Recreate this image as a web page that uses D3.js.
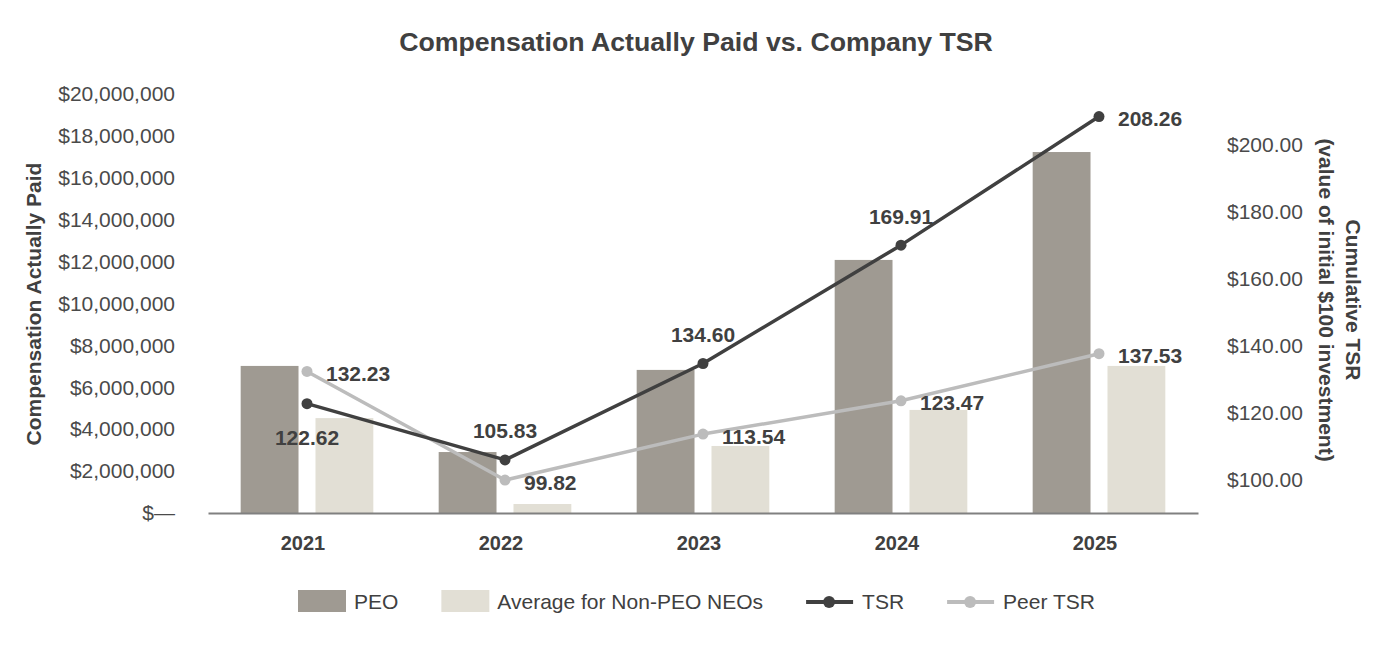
<!DOCTYPE html>
<html>
<head>
<meta charset="utf-8">
<script src="https://cdn.jsdelivr.net/npm/d3@7"></script>
<style>
  body { margin: 0; background: #fff; }
  svg text { font-family: "Liberation Sans", Arial, sans-serif; }
</style>
</head>
<body>
<div id="chart"></div>
<script>
// ---- data ----
const years = ['2021', '2022', '2023', '2024', '2025'];
const peoCap = [7020000, 2910000, 6830000, 12080000, 17230000];
const avgNeoCap = [4530000, 430000, 3200000, 4920000, 7020000];
const tsr = [122.62, 105.83, 134.6, 169.91, 208.26];
const peerTsr = [132.23, 99.82, 113.54, 123.47, 137.53];
const leftTicks = [0, 2e6, 4e6, 6e6, 8e6, 10e6, 12e6, 14e6, 16e6, 18e6, 20e6];
const rightTicks = [100, 120, 140, 160, 180, 200];

const W = 1392, H = 652;
const plot = { left: 208, right: 1198, top: 94, bottom: 513 };
const textColor = '#404040';
const colors = { peo: '#9f9a92', avg: '#e2dfd5', tsr: '#404040', peer: '#bcbcbc' };

const svg = d3.select('#chart').append('svg').attr('width', W).attr('height', H);

// scales
const x0 = d3.scaleBand().domain(years).range([plot.left, plot.right])
  .paddingInner(0.33).paddingOuter(0.165);
const x1 = d3.scaleBand().domain(['peo', 'avg']).range([0, x0.bandwidth()]).paddingInner(0.227);
const yLeft = d3.scaleLinear().domain([0, 20e6]).range([plot.bottom, plot.top]);
const yRight = d3.scaleLinear().domain([90, 215]).range([plot.bottom, plot.top]);
const cx = (d, i) => x0(years[i]) + x0.bandwidth() / 2;

// title
svg.append('text').attr('x', 696).attr('y', 51).attr('text-anchor', 'middle')
  .attr('font-size', 26.7).attr('font-weight', 'bold').attr('fill', textColor)
  .text('Compensation Actually Paid vs. Company TSR');

// left axis
const leftAxis = d3.axisLeft(yLeft).tickValues(leftTicks).tickSize(0).tickPadding(0)
  .tickFormat(d => d === 0 ? '$\u2014' : '$' + d3.format(',')(d));
svg.append('g').attr('transform', 'translate(175,0)').call(leftAxis)
  .call(g => g.select('.domain').remove())
  .call(g => g.selectAll('text').attr('font-size', 21).attr('fill', '#4a4a4a')
    .attr('font-family', '"Liberation Sans", Arial, sans-serif'));

// right axis
const rightAxis = d3.axisRight(yRight).tickValues(rightTicks).tickSize(0).tickPadding(0)
  .tickFormat(d => '$' + d3.format('.2f')(d));
svg.append('g').attr('transform', 'translate(1227,0)').call(rightAxis)
  .call(g => g.select('.domain').remove())
  .call(g => g.selectAll('text').attr('font-size', 21).attr('fill', '#4a4a4a')
    .attr('font-family', '"Liberation Sans", Arial, sans-serif'));

// axis titles
svg.append('text').attr('transform', 'translate(40.5,304) rotate(-90)')
  .attr('text-anchor', 'middle').attr('font-size', 21).attr('font-weight', 'bold')
  .attr('fill', textColor).text('Compensation Actually Paid');

const rTitle = svg.append('text').attr('transform', 'translate(1345.5,300) rotate(90)')
  .attr('text-anchor', 'middle').attr('font-size', 21).attr('font-weight', 'bold')
  .attr('fill', textColor);
rTitle.append('tspan').attr('x', 0).attr('dy', 0).text('Cumulative TSR');
rTitle.append('tspan').attr('x', 0).attr('dy', 27).text('(value of initial $100 investment)');

// bars
const barGroups = svg.append('g').selectAll('g').data(years).join('g')
  .attr('transform', d => 'translate(' + x0(d) + ',0)');
barGroups.append('rect')
  .attr('x', x1('peo')).attr('width', x1.bandwidth())
  .attr('y', (d, i) => yLeft(peoCap[i]))
  .attr('height', (d, i) => yLeft(0) - yLeft(peoCap[i]))
  .attr('fill', colors.peo);
barGroups.append('rect')
  .attr('x', x1('avg')).attr('width', x1.bandwidth())
  .attr('y', (d, i) => yLeft(avgNeoCap[i]))
  .attr('height', (d, i) => yLeft(0) - yLeft(avgNeoCap[i]))
  .attr('fill', colors.avg);

// bottom axis
const bottomAxis = d3.axisBottom(x0).tickSize(0).tickSizeOuter(0).tickPadding(0);
svg.append('g').attr('transform', 'translate(0,' + plot.bottom + ')').call(bottomAxis)
  .call(g => g.select('.domain').attr('stroke', '#808080').attr('stroke-width', 2))
  .call(g => g.selectAll('text').attr('font-size', 20).attr('font-weight', 'bold')
    .attr('fill', textColor).attr('dy', 0).attr('y', 37).attr('dx', -4)
    .attr('font-family', '"Liberation Sans", Arial, sans-serif'));

// lines
function drawLine(values, color, placement) {
  const line = d3.line().x(cx).y(d => yRight(d));
  svg.append('path').datum(values).attr('fill', 'none').attr('stroke', color)
    .attr('stroke-width', 3.5).attr('stroke-linejoin', 'round').attr('d', line);
  svg.append('g').selectAll('circle').data(values).join('circle')
    .attr('cx', cx).attr('cy', d => yRight(d)).attr('r', 5.5).attr('fill', color);
  svg.append('g').selectAll('text').data(values).join('text')
    .attr('font-size', 21).attr('font-weight', 'bold').attr('fill', textColor)
    .attr('text-anchor', (d, i) => placement[i] === 'right' ? 'start' : 'middle')
    .attr('x', (d, i) => cx(d, i) + (placement[i] === 'right' ? 19 : 0))
    .attr('y', (d, i) => yRight(d) + (placement[i] === 'right' ? 9.5 : placement[i] === 'above' ? -21.5 : 41.5))
    .text(d => d3.format('.2f')(d));
}
drawLine(peerTsr, colors.peer, ['right', 'right', 'right', 'right', 'right']);
drawLine(tsr, colors.tsr, ['below', 'above', 'above', 'above', 'right']);

// legend
const legendItems = [
  { label: 'PEO', type: 'rect', color: colors.peo },
  { label: 'Average for Non-PEO NEOs', type: 'rect', color: colors.avg },
  { label: 'TSR', type: 'line', color: colors.tsr },
  { label: 'Peer TSR', type: 'line', color: colors.peer }
];
const legend = svg.append('g');
let lx = 298;
const ly = 601;
legendItems.forEach(item => {
  const g = legend.append('g').attr('transform', 'translate(' + lx + ',' + ly + ')');
  if (item.type === 'rect') {
    g.append('rect').attr('x', 0).attr('y', -11).attr('width', 48).attr('height', 22).attr('fill', item.color);
  } else {
    g.append('line').attr('x1', 0).attr('x2', 47).attr('y1', 1).attr('y2', 1)
      .attr('stroke', item.color).attr('stroke-width', 4);
    g.append('circle').attr('cx', 23).attr('cy', 1).attr('r', 6).attr('fill', item.color);
  }
  const t = g.append('text').attr('x', 56).attr('y', 7.5)
    .attr('font-size', 21).attr('fill', textColor).text(item.label);
  lx += 56 + t.node().getComputedTextLength() + 43;
});
</script>
</body>
</html>
